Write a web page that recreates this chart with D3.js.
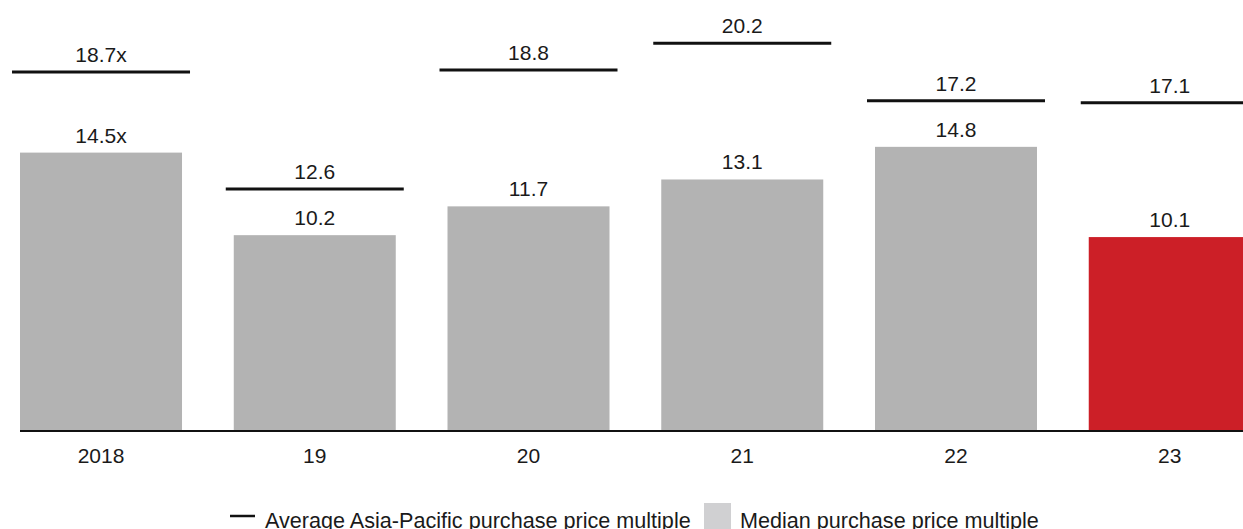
<!DOCTYPE html>
<html>
<head>
<meta charset="utf-8">
<script src="https://cdn.jsdelivr.net/npm/d3@7/dist/d3.min.js"></script>
<style>
  html, body { margin: 0; padding: 0; background: #fff; overflow: hidden; }
  svg { display: block; font-family: "Liberation Sans", Arial, sans-serif; }
</style>
</head>
<body>
<svg id="chart" width="1243" height="529"></svg>
<script>
// Purchase price multiples by year
const years = ["2018", "19", "20", "21", "22", "23"];
const medianMultiple = [14.5, 10.2, 11.7, 13.1, 14.8, 10.1];
const averageAPAC = [18.7, 12.6, 18.8, 20.2, 17.2, 17.1];
const barColors = ["#b3b3b3", "#b3b3b3", "#b3b3b3", "#b3b3b3", "#b3b3b3", "#cc1f27"];
const legendLabels = ["Average Asia-Pacific purchase price multiple", "Median purchase price multiple"];

const svg = d3.select("#chart");
const textColor = "#1a1a1a";
const fontSize = 21;

const baseY = 431;
const x = d3.scaleBand()
  .domain(years)
  .range([-5.87, 1276.63])
  .paddingInner(0.2421)
  .paddingOuter(0.1211);

const y = d3.scaleLinear().domain([0, 20]).range([baseY, baseY - 384]);

const fmt = (v, i) => d3.format(".1f")(v) + (i === 0 ? "x" : "");

// bars
svg.append("g").selectAll("rect")
  .data(years)
  .join("rect")
  .attr("x", d => x(d))
  .attr("width", x.bandwidth())
  .attr("y", (d, i) => y(medianMultiple[i]))
  .attr("height", (d, i) => baseY - y(medianMultiple[i]))
  .attr("fill", (d, i) => barColors[i]);

// bar value labels
svg.append("g").selectAll("text")
  .data(years)
  .join("text")
  .attr("x", d => x(d) + x.bandwidth() / 2)
  .attr("y", (d, i) => y(medianMultiple[i]) - 10)
  .attr("text-anchor", "middle")
  .attr("font-size", fontSize)
  .attr("fill", textColor)
  .text((d, i) => fmt(medianMultiple[i], i));

// average markers
const ext = 8;
svg.append("g").selectAll("line")
  .data(years)
  .join("line")
  .attr("x1", d => x(d) - ext)
  .attr("x2", d => x(d) + x.bandwidth() + ext)
  .attr("y1", (d, i) => y(averageAPAC[i]))
  .attr("y2", (d, i) => y(averageAPAC[i]))
  .attr("stroke", "#111")
  .attr("stroke-width", 3);

svg.append("g").selectAll("text")
  .data(years)
  .join("text")
  .attr("x", d => x(d) + x.bandwidth() / 2)
  .attr("y", (d, i) => y(averageAPAC[i]) - 10)
  .attr("text-anchor", "middle")
  .attr("font-size", fontSize)
  .attr("fill", textColor)
  .text((d, i) => fmt(averageAPAC[i], i));

// x axis
const xAxis = svg.append("g")
  .attr("transform", `translate(0,${baseY})`)
  .call(d3.axisBottom(x).tickSize(0).tickPadding(17));
xAxis.select(".domain").remove();
xAxis.selectAll("text")
  .attr("font-size", fontSize)
  .attr("font-family", "Liberation Sans, Arial, sans-serif")
  .attr("fill", textColor);
svg.append("line")
  .attr("x1", 20).attr("x2", 1243)
  .attr("y1", baseY).attr("y2", baseY)
  .attr("stroke", "#111").attr("stroke-width", 2);

// legend
const legendSize = 21.6;
const lg = svg.append("g");
lg.append("line")
  .attr("x1", 230).attr("x2", 255)
  .attr("y1", 516).attr("y2", 516)
  .attr("stroke", "#111").attr("stroke-width", 2.5);
lg.append("text")
  .attr("x", 265).attr("y", 528)
  .attr("font-size", legendSize)
  .attr("fill", textColor)
  .text(legendLabels[0]);
lg.append("rect")
  .attr("x", 704).attr("y", 503)
  .attr("width", 27).attr("height", 30)
  .attr("fill", "#d0d0d2");
lg.append("text")
  .attr("x", 740).attr("y", 528)
  .attr("font-size", legendSize)
  .attr("fill", textColor)
  .text(legendLabels[1]);
</script>
</body>
</html>
